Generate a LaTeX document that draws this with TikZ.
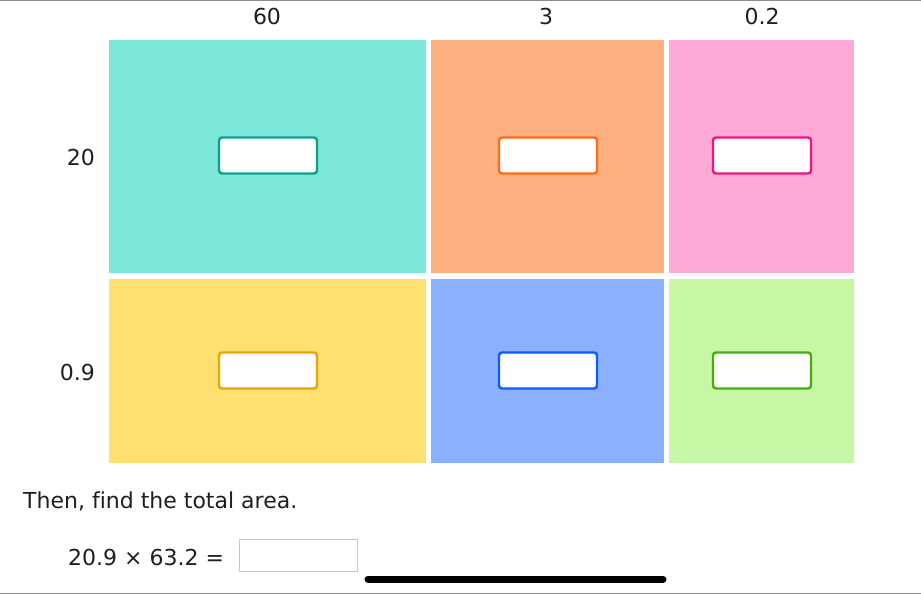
\documentclass[tikz,border=0pt]{standalone}
\usepackage{fontspec}
\setmainfont[Ligatures=NoCommon]{DejaVu Sans}
\begin{document}
\begin{tikzpicture}[x=1pt,y=-1pt,
  lbl/.style={font=\fontsize{22}{26}\selectfont, text=black!88, inner sep=0pt},
  ansbox/.style={draw, line width=2.4pt, rounded corners=3pt, fill=white, minimum width=98pt, minimum height=36pt, inner sep=0pt},
  frameline/.style={draw=black!45, line width=1.2pt}]
\definecolor{cTeal}{HTML}{7DE8DA}
\definecolor{cOrange}{HTML}{FDB07F}
\definecolor{cPink}{HTML}{FFAAD6}
\definecolor{cYellow}{HTML}{FFE070}
\definecolor{cBlue}{HTML}{8AB0FF}
\definecolor{cGreen}{HTML}{C7F7A5}
\definecolor{bTeal}{HTML}{0E9F89}
\definecolor{bOrange}{HTML}{FF6A12}
\definecolor{bPink}{HTML}{F2127A}
\definecolor{bYellow}{HTML}{E7A900}
\definecolor{bBlue}{HTML}{0A5CFF}
\definecolor{bGreen}{HTML}{48AC0E}
\useasboundingbox (0,0) rectangle (921,594);
\fill[white] (0,0) rectangle (921,594);
\draw[frameline] (0,0.6) -- (921,0.6);
\draw[frameline] (0,593.4) -- (921,593.4);
% cells
\fill[cTeal] (109,40) rectangle (426,273);
\fill[cOrange] (431,40) rectangle (664,273);
\fill[cPink] (669,40) rectangle (854,273);
\fill[cYellow] (109,279) rectangle (426,463);
\fill[cBlue] (431,279) rectangle (664,463);
\fill[cGreen] (669,279) rectangle (854,463);
% answer boxes
\node[ansbox, draw=bTeal] (a1) at (268,155.5) {};
\node[ansbox, draw=bOrange] (a2) at (548,155.5) {};
\node[ansbox, draw=bPink] (a3) at (762,155.5) {};
\node[ansbox, draw=bYellow] (a4) at (268,370.5) {};
\node[ansbox, draw=bBlue] (a5) at (548,370.5) {};
\node[ansbox, draw=bGreen] (a6) at (762,370.5) {};
% labels
\node[lbl] (t1) at (267,16) {60};
\node[lbl] (t2) at (546,16) {3};
\node[lbl] (t3) at (762,16) {0.2};
\node[lbl, anchor=east] (r1) at (95,157) {20};
\node[lbl, anchor=east] (r2) at (95,372) {0.9};
\node[lbl, anchor=base west] (q) at (23,508) {Then, find the total area.};
\node[lbl, anchor=base west] (eq) at (68,565) {20.9 × 63.2 =};
\node[draw=black!22, line width=1pt, fill=white, minimum width=118pt, minimum height=32pt, inner sep=0pt] (ans) at (298.5,555.5) {};
\coordinate (ls) at (368,579);
\coordinate (le) at (663,579);
\draw[line width=7pt, line cap=round] (ls) -- (le);
\end{tikzpicture}
\end{document}
